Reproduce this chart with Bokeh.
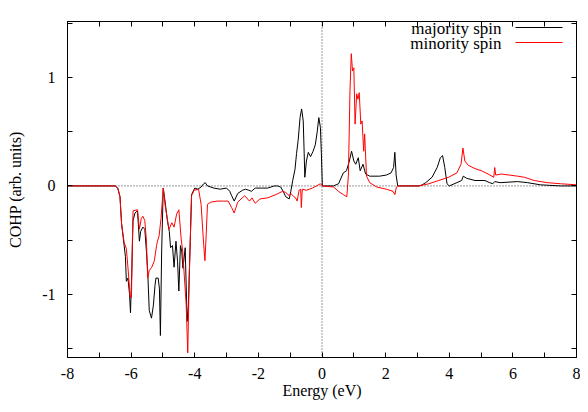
from bokeh.plotting import figure
from bokeh.models import FixedTicker, LinearAxis, Span, Label, Arrow, Range1d
from bokeh.embed import file_html
from bokeh.resources import INLINE

# Energy (eV) and COHP values, majority spin (black)
maj_energy = [-8.0, -6.5, -6.42, -6.35, -6.3, -6.22, -6.18, -6.15, -6.1, -6.05, -6.02, -5.98, -5.94, -5.88,
              -5.8, -5.74, -5.7, -5.63, -5.57, -5.52, -5.48, -5.43, -5.36, -5.3, -5.25, -5.22, -5.15, -5.11,
              -5.08, -5.04, -4.99, -4.93, -4.86, -4.8, -4.76, -4.7, -4.65, -4.59, -4.54, -4.5, -4.45, -4.41,
              -4.37, -4.3, -4.24, -4.2, -4.15, -4.1, -4.0, -3.9, -3.8, -3.72, -3.67, -3.6, -3.4, -3.2, -3.0,
              -2.9, -2.84, -2.76, -2.65, -2.5, -2.4, -2.3, -2.22, -2.1, -1.9, -1.71, -1.5, -1.4, -1.3, -1.22,
              -1.14, -1.03, -0.98, -0.92, -0.85, -0.8, -0.75, -0.69, -0.64, -0.59, -0.56, -0.54, -0.49, -0.43,
              -0.36, -0.28, -0.21, -0.15, -0.1, -0.05, -0.02, 0.01, 0.36, 0.52, 0.67, 0.77, 0.86, 0.93, 1.0,
              1.06, 1.14, 1.2, 1.29, 1.37, 1.5, 1.81, 2.02, 2.17, 2.25, 2.29, 2.33, 2.38, 3.05, 3.15, 3.26,
              3.46, 3.62, 3.72, 3.79, 3.86, 3.93, 4.0, 4.24, 4.39, 4.44, 4.55, 4.81, 5.12, 5.27, 5.37, 5.43,
              5.6, 6.15, 6.46, 6.87, 7.5, 8.0]
maj_cohp = [0.0, 0.0, -0.02, -0.1, -0.35, -0.55, -0.65, -0.88, -0.85, -1.0, -1.17, -0.8, -0.32, -0.25,
            -0.23, -0.51, -0.42, -0.38, -0.4, -0.6, -0.78, -1.15, -1.22, -1.1, -0.92, -0.85, -0.85, -0.95,
            -1.38, -0.6, -0.02, -0.15, -0.32, -0.42, -0.57, -0.55, -0.75, -0.51, -0.7, -0.97, -0.55, -0.6,
            -0.76, -0.57, -1.25, -1.1, -0.6, -0.08, -0.02, -0.03, -0.01, 0.02, 0.03, 0.0, -0.02, -0.03, -0.02,
            -0.05, -0.09, -0.14, -0.07, -0.04, -0.03, -0.04, -0.05, -0.02, -0.02, -0.02, 0.0, 0.0, -0.01, -0.05,
            -0.1, -0.12, -0.05, 0.05, 0.15, 0.3, 0.42, 0.63, 0.71, 0.6, 0.3, 0.08, 0.23, 0.31,
            0.27, 0.32, 0.38, 0.5, 0.63, 0.54, 0.3, 0.0, 0.0, 0.02, 0.12, 0.14, 0.23, 0.32, 0.23,
            0.2, 0.26, 0.14, 0.2, 0.11, 0.09, 0.09, 0.1, 0.12, 0.17, 0.31, 0.1, 0.0, 0.0, 0.01, 0.03,
            0.08, 0.17, 0.26, 0.28, 0.17, 0.02, 0.0, 0.03, 0.05, 0.09, 0.07, 0.05, 0.05, 0.03, 0.02, 0.04,
            0.03, 0.04, 0.03, 0.01, 0.0, 0.0]

# minority spin (red)
min_energy = [-8.0, -6.5, -6.42, -6.35, -6.3, -6.22, -6.15, -6.1, -6.03, -5.99, -5.96, -5.94, -5.8, -5.74,
              -5.68, -5.63, -5.57, -5.52, -5.48, -5.43, -5.35, -5.27, -5.2, -5.17, -5.12, -5.06, -4.99, -4.93,
              -4.81, -4.72, -4.65, -4.57, -4.5, -4.43, -4.38, -4.27, -4.22, -4.17, -4.1, -4.02, -3.88, -3.8,
              -3.72, -3.68, -3.64, -3.6, -3.5, -3.3, -3.1, -2.95, -2.84, -2.76, -2.65, -2.43, -2.28, -2.2,
              -2.1, -1.95, -1.71, -1.45, -1.24, -1.14, -1.03, -0.98, -0.88, -0.83, -0.78, -0.72, -0.67, -0.65,
              -0.62, -0.49, -0.3, -0.05, 0.01, 0.36, 0.52, 0.67, 0.78, 0.83, 0.88, 0.92, 0.96, 1.0, 1.04,
              1.09, 1.13, 1.17, 1.22, 1.26, 1.31, 1.34, 1.4, 1.5, 1.72, 2.02, 2.23, 2.29, 2.34, 2.38, 3.05,
              3.36, 3.67, 3.98, 4.24, 4.37, 4.43, 4.49, 4.6, 4.81, 5.01, 5.22, 5.4, 5.43, 5.46, 5.63, 5.89,
              6.15, 6.36, 6.67, 7.08, 7.5, 8.0]
min_cohp = [0.0, 0.0, -0.02, -0.1, -0.35, -0.52, -0.58, -0.75, -1.02, -1.03, -0.5, -0.23, -0.22, -0.4,
            -0.3, -0.28, -0.32, -0.5, -0.85, -0.78, -0.75, -0.69, -0.55, -0.51, -0.46, -0.3, -0.02, -0.18,
            -0.4, -0.34, -0.38, -0.26, -0.22, -0.48, -0.6, -1.09, -1.54, -0.8, -0.09, -0.04, -0.03, -0.17,
            -0.54, -0.69, -0.45, -0.17, -0.15, -0.14, -0.14, -0.14, -0.2, -0.25, -0.15, -0.09, -0.14, -0.11,
            -0.16, -0.12, -0.11, -0.08, -0.05, -0.06, -0.09, -0.07, -0.1, -0.11, -0.14, -0.04, -0.03, -0.2,
            -0.03, -0.04, -0.02, 0.02, 0.0, -0.01, -0.05, -0.08, -0.1, 0.1, 0.88, 1.22, 1.06, 1.09, 0.57,
            0.85, 0.8, 0.86, 0.57, 0.6, 0.32, 0.48, 0.09, 0.03, -0.01, -0.03, -0.05, -0.08, -0.01, 0.0, 0.0,
            0.02, 0.05, 0.08, 0.12, 0.2, 0.35, 0.23, 0.19, 0.16, 0.14, 0.11, 0.08, 0.17, 0.1, 0.11, 0.1,
            0.09, 0.08, 0.05, 0.03, 0.02, 0.01]

x_ticks = list(range(-8, 9))
x_tick_labels = {t: (str(t) if t % 2 == 0 else "") for t in x_ticks}
y_ticks = [-1.5, -1.0, -0.5, 0.0, 0.5, 1.0, 1.5]
y_tick_labels = {-1.5: "", -1.0: "-1", -0.5: "", 0.0: "0", 0.5: "", 1.0: "1", 1.5: ""}

series_names = ["majority spin", "minority spin"]
series_colors = ["#000000", "#ff0000"]

FONT = "Liberation Serif"
FSIZE = "16px"

p = figure(width=580, height=404, x_range=Range1d(-8, 8), y_range=Range1d(-1.583, 1.517),
           output_backend="svg", toolbar_location=None,
           min_border_left=67, min_border_right=4, min_border_top=21, min_border_bottom=47)
p.xgrid.visible = False
p.ygrid.visible = False
p.outline_line_color = "black"
p.outline_line_width = 1
p.background_fill_color = "white"
p.border_fill_color = "white"


def style_axis(ax, ticks, overrides, standoff, label, label_standoff):
    ax.ticker = FixedTicker(ticks=ticks, minor_ticks=[])
    ax.major_label_overrides = overrides
    ax.major_tick_in = 5
    ax.major_tick_out = 0
    ax.minor_tick_in = 0
    ax.minor_tick_out = 0
    ax.axis_line_color = "black"
    ax.major_tick_line_color = "black"
    ax.major_label_text_font = FONT
    ax.major_label_text_color = "black"
    ax.major_label_text_font_size = FSIZE
    ax.major_label_standoff = standoff
    ax.axis_label = label
    ax.axis_label_text_font = FONT
    ax.axis_label_text_font_size = FSIZE
    ax.axis_label_text_font_style = "normal"
    ax.axis_label_text_color = "black"
    ax.axis_label_standoff = label_standoff


def mirror_axis(ax, ticks):
    # mirrored ticks only (drawn as minor ticks so that no labels exist)
    ax.ticker = FixedTicker(ticks=[], minor_ticks=ticks)
    ax.major_tick_in = 0
    ax.major_tick_out = 0
    ax.minor_tick_in = 5
    ax.minor_tick_out = 0
    ax.minor_tick_line_color = "black"
    ax.axis_line_color = "black"


style_axis(p.xaxis[0], x_ticks, x_tick_labels, 10, "Energy (eV)", 0)
style_axis(p.yaxis[0], y_ticks, y_tick_labels, 12, "COHP (arb. units)", 15)

top_ax = LinearAxis()
mirror_axis(top_ax, x_ticks)
p.add_layout(top_ax, "above")
right_ax = LinearAxis()
mirror_axis(right_ax, y_ticks)
p.add_layout(right_ax, "right")

p.add_layout(Span(location=0, dimension="width", line_color="black", line_width=0.8,
                  line_dash="1 2", level="underlay"))
p.add_layout(Span(location=0, dimension="height", line_color="black", line_width=0.8,
                  line_dash="1 2", level="underlay"))

p.line(maj_energy, maj_cohp, line_color=series_colors[0], line_width=1)
p.line(min_energy, min_cohp, line_color=series_colors[1], line_width=1)

# key (text on the left, line sample on the right, as in the reference)
key_rows_y = [329, 314]
for name, color, yy in zip(series_names, series_colors, key_rows_y):
    p.add_layout(Label(x=434, y=yy, x_units="screen", y_units="screen", text=name,
                       text_align="right", text_baseline="middle",
                       text_font=FONT, text_font_size="17px", text_color="black"))
    p.add_layout(Arrow(x_start=448, y_start=yy + 1, x_end=495, y_end=yy + 1,
                       start_units="screen", end_units="screen", start=None, end=None,
                       line_color=color, line_width=1))

open("out.html", "w").write(file_html(p, INLINE))
